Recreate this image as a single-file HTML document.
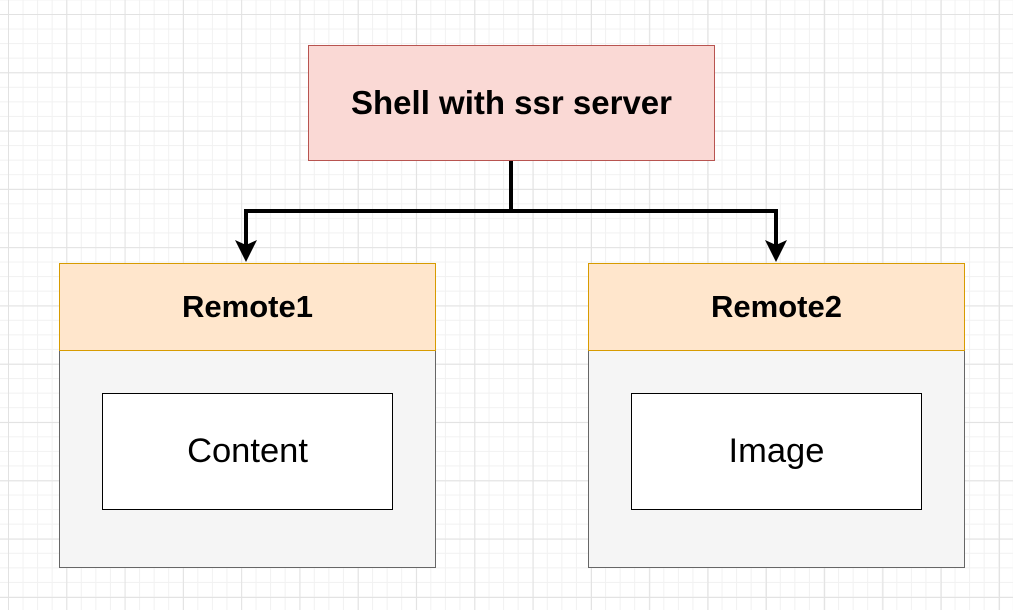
<!DOCTYPE html>
<html><head><style>
body{margin:0;width:1013px;height:610px;overflow:hidden;font-family:"Liberation Sans",sans-serif;
background-color:#fff;
background-image:linear-gradient(#e2e2e2 1px,transparent 1px),linear-gradient(90deg,#e2e2e2 1px,transparent 1px),linear-gradient(#f1f1f1 1px,transparent 1px),linear-gradient(90deg,#f1f1f1 1px,transparent 1px);
background-size:58.3px 58.3px,58.3px 58.3px,14.575px 14.575px,14.575px 14.575px;
background-position:8px 14px,8px 14px,8px 14px,8px 14px;}
.b{position:absolute;box-sizing:border-box;display:flex;align-items:center;justify-content:center;}
</style></head><body>
<div class="b" style="left:308px;top:45px;width:407px;height:116px;background:#fad9d5;border:1px solid #b85450;font-weight:bold;font-size:33px">Shell with ssr server</div>
<div class="b" style="left:59px;top:263px;width:377px;height:305px;background:#f5f5f5;border:1px solid #666"></div>
<div class="b" style="left:59px;top:263px;width:377px;height:88px;background:#ffe6cc;border:1px solid #d79b00;font-weight:bold;font-size:31px">Remote1</div>
<div class="b" style="left:102px;top:393px;width:291px;height:117px;background:#fff;border:1px solid #000;font-size:34.5px">Content</div>
<div class="b" style="left:588px;top:263px;width:377px;height:305px;background:#f5f5f5;border:1px solid #666"></div>
<div class="b" style="left:588px;top:263px;width:377px;height:88px;background:#ffe6cc;border:1px solid #d79b00;font-weight:bold;font-size:31px">Remote2</div>
<div class="b" style="left:631px;top:393px;width:291px;height:117px;background:#fff;border:1px solid #000;font-size:34.5px">Image</div>
<svg width="1013" height="610" style="position:absolute;left:0;top:0">
<path d="M511 161V211H246V250M511 211H776V250" fill="none" stroke="#000" stroke-width="4"/>
<path d="M235 240L246 262L257 240L246 245Z M765 240L776 262L787 240L776 245Z" fill="#000"/>
</svg>
</body></html>
